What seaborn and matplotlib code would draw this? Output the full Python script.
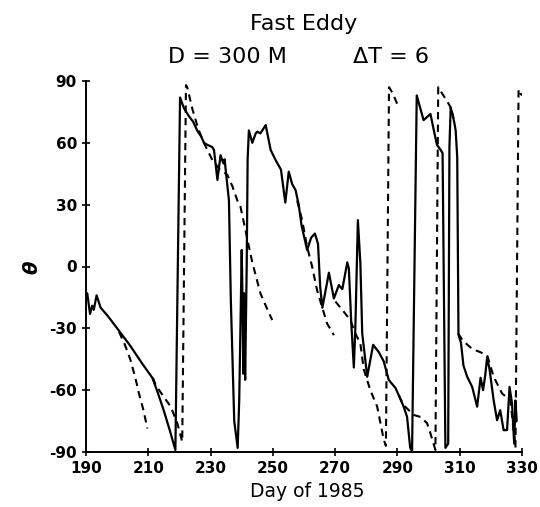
import matplotlib
matplotlib.use("Agg")
import matplotlib.pyplot as plt
import seaborn as sns
import pandas as pd

# Observed eddy orientation angle (solid)
obs_day = [190.4, 191.3, 192.0, 192.5, 193.4, 194.7, 197.0, 199.0, 201.0, 204.0,
           208.0, 211.3, 213.0, 215.0, 217.0, 218.7, 220.2, 221.4, 223.0, 224.5,
           225.7, 227.0, 227.9, 229.0, 230.5, 231.1, 232.2, 233.2, 234.1, 234.5,
           235.9, 236.5, 237.6, 238.7, 239.2, 240.0, 240.3, 240.5, 240.8, 241.1,
           241.6, 241.9, 242.3, 243.4, 244.5, 245.0, 246.0, 247.7, 249.3, 250.9,
           252.6, 254.0, 255.1, 256.2, 257.3, 258.3, 259.2, 261.0, 262.3, 263.5,
           264.5, 265.2, 265.9, 268.0, 269.6, 271.2, 272.3, 273.9, 274.4, 275.2,
           276.0, 276.5, 277.3, 278.1, 278.7, 280.3, 282.2, 284.0, 285.6, 287.2,
           289.4, 290.4, 292.0, 293.1, 294.1, 294.7, 296.2, 298.4, 300.6, 301.7,
           302.7, 303.9, 304.5, 305.4, 306.3, 306.7, 307.1, 307.7, 308.3, 308.7,
           309.2, 309.6, 310.4, 311.2, 312.4, 314.0, 315.6, 316.7, 317.5, 318.2,
           318.8, 319.6, 320.9, 322.0, 323.0, 324.1, 325.2, 326.0, 326.8, 327.5,
           327.9, 328.3]
obs_theta = [-13, -23, -19, -21, -14, -20, -24, -28, -32, -38,
             -47, -54, -61, -70, -80, -89, 82, 77, 73, 70,
             66, 63, 60, 59, 58, 56.5, 42, 54, 50, 52,
             32, -16, -75, -88, -65, 8, -20, -52, -13, -55,
             0, 52, 66, 60, 64.6, 65.4, 64.6, 68.6, 56.5, 51.6,
             47, 31, 46, 40, 37, 30, 20, 8, 14, 16,
             11, -10, -20, -3, -15.5, -9, -11, 2, -1, -28,
             -49, -29, 22.5, 1.5, -32.5, -53.5, -38, -41.5, -46, -55,
             -59, -62.4, -68, -73, -88, -89.5, 83, 71, 74, 66,
             59, 56.5, 55, -88, -86, 58, 77, 74, 69.5, 66,
             53, -33, -37, -48, -53.5, -58.4, -68, -54, -60, -52.7,
             -44, -50, -65, -74.6, -69.7, -79.4, -79.4, -58.4, -66.5, -86,
             -65, -75]

# Predicted trajectories (dashed), one per launch date
pred1_day = [200.6, 202.5, 204.3, 206.0, 207.0, 208.5, 209.7]
pred1_theta = [-31.7, -38, -45.4, -55, -61.6, -70, -78.6]

pred2_day = [211.5, 212.4, 215.0, 217.2, 219.3, 220.9, 222.1, 222.5, 224.1, 226.0,
             227.9, 230.6, 233.0, 235.4, 237.0, 238.6, 239.6, 241.2, 242.4, 243.4,
             246.0, 248.0, 249.8]
pred2_theta = [-54, -57.6, -63.3, -68, -76, -85, 88, 87, 76.7, 67,
               59.8, 51.6, 47, 44.4, 39, 32, 29, 17.7, 9, 2,
               -13, -20, -26]

pred3_day = [257.8, 259.4, 261.0, 262.6, 264.2, 265.8, 267.4, 269.6]
pred3_theta = [32, 22.5, 9.6, 0, -11.5, -19.6, -27.6, -33.3]

pred4_day = [270.1, 272.8, 274.9, 276.5, 278.1, 279.2, 281.3, 283.5, 285.6, 286.3,
             287.3, 288.5, 289.9]
pred4_theta = [-17, -22, -26, -32.5, -37.4, -50, -60, -68, -84, -87,
               87, 84, 79]

pred5_day = [290.4, 292.0, 295.2, 297.4, 299.5, 300.6, 302.2, 303.1, 303.5, 305.6,
             307.0, 308.0]
pred5_theta = [-62.4, -67.3, -72, -73, -76, -81, -89, 87, 86, 81,
               77.5, 72]

pred6_day = [309.5, 311.0, 314.0, 316.5, 318.8, 320.9, 323.6, 326.3, 327.9, 328.9,
             329.5, 330.0]
pred6_theta = [-32.5, -36, -40, -41.5, -43, -53.5, -61.6, -65, -88, 86,
               84, 83]

x_ticks = [190, 210, 230, 250, 270, 290, 310, 330]
y_ticks = [-90, -60, -30, 0, 30, 60, 90]

sns.set_style("ticks")
plt.rcParams["font.family"] = ["DejaVu Sans"]
plt.rcParams["text.color"] = "black"

fig = plt.figure(figsize=(5.40, 5.07), dpi=100)
ax = fig.add_axes([86 / 540, 1 - 452 / 507, (522 - 86) / 540, (452 - 81) / 507])

obs = pd.DataFrame({"day": obs_day, "theta": obs_theta})
sns.lineplot(data=obs, x="day", y="theta", sort=False, estimator=None,
             color="black", linewidth=1.6, ax=ax)

preds = [(pred1_day, pred1_theta), (pred2_day, pred2_theta), (pred3_day, pred3_theta),
         (pred4_day, pred4_theta), (pred5_day, pred5_theta), (pred6_day, pred6_theta)]
for d, t in preds:
    seg = pd.DataFrame({"day": d, "theta": t})
    line = sns.lineplot(data=seg, x="day", y="theta", sort=False, estimator=None,
                        color="black", linewidth=1.5, ax=ax)
    line.lines[-1].set_dashes((3.5, 2.5))

ax.set_xlim(190, 330)
ax.set_ylim(-90, 90)
ax.set_xticks(x_ticks)
ax.set_yticks(y_ticks)
ax.set_xticklabels([str(v) for v in x_ticks], fontsize=11, fontweight="bold")
ax.set_yticklabels([str(v) for v in y_ticks], fontsize=11, fontweight="bold")
ax.tick_params(direction="inout", length=6, width=1.2, colors="black")
ax.set_xlabel("")
ax.set_ylabel("")
sns.despine(ax=ax)
for s in ("left", "bottom"):
    ax.spines[s].set_linewidth(1.4)
    ax.spines[s].set_color("black")

fig.text(304 / 540, 1 - 30 / 507, "Fast Eddy", ha="center", va="baseline",
         fontsize=16, color="black")
fig.text(227 / 540, 1 - 63 / 507, "D = 300 M", ha="center", va="baseline",
         fontsize=16, color="black")
fig.text(391 / 540, 1 - 63 / 507, "ΔT = 6", ha="center", va="baseline",
         fontsize=16, color="black")
fig.text(307 / 540, 1 - 497 / 507, "Day of 1985", ha="center", va="baseline",
         fontsize=13.5, color="black")
fig.text(32 / 540, 1 - 267 / 507, "θ", ha="center", va="center", fontsize=14,
         fontweight="bold", fontstyle="italic", rotation=90, color="black")

fig.savefig("out.png", dpi=100)
